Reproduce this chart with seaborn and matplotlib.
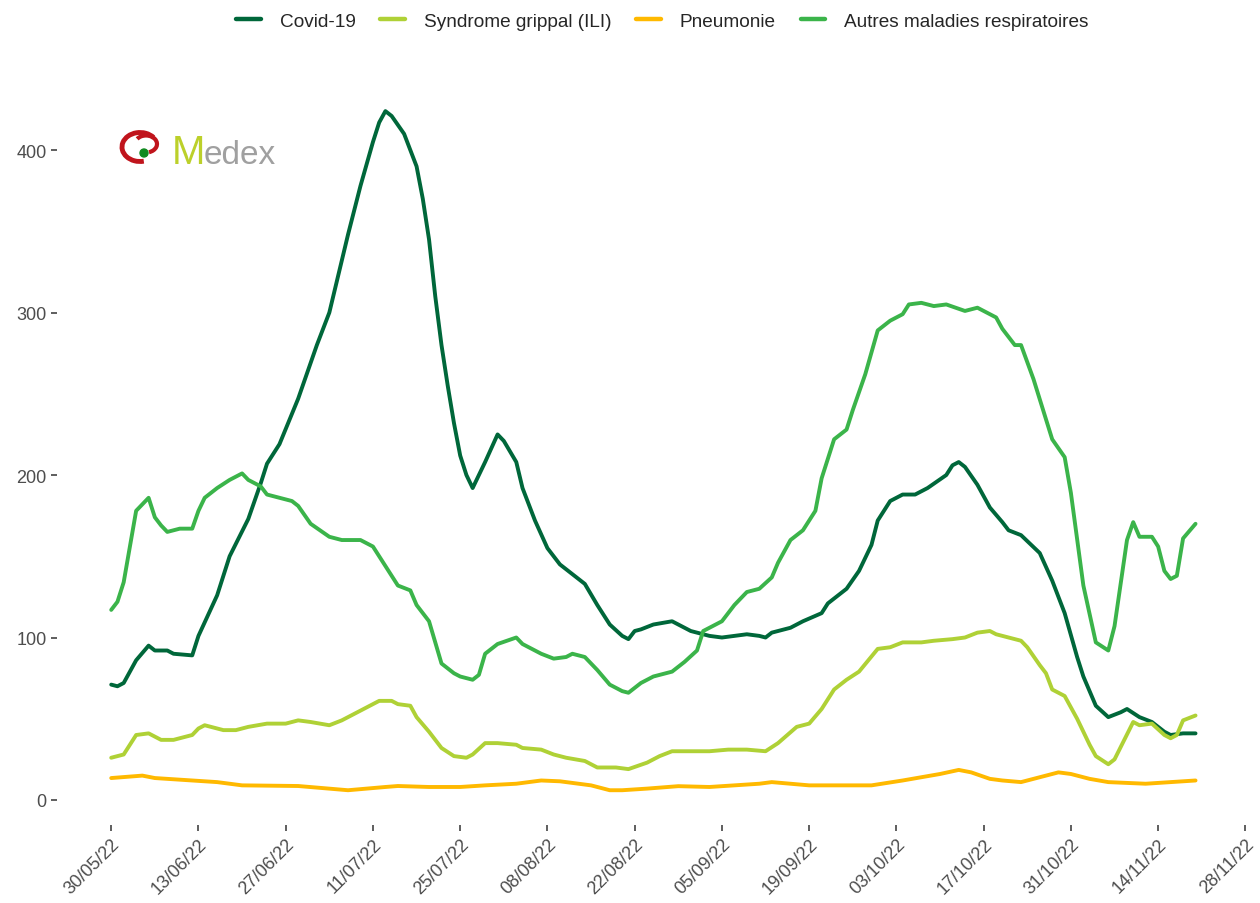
import pandas as pd
import matplotlib
matplotlib.use("Agg")
import matplotlib.pyplot as plt
import matplotlib.dates as mdates
from matplotlib.patches import Arc, Circle
import seaborn as sns

# day offsets from 30/05/22 and daily counts
start = pd.Timestamp("2022-05-30")

covid_days = [0, 1, 2, 4, 6, 7, 9, 10, 13, 14, 17, 19, 22, 24, 25, 27, 30, 33, 35, 38,
              40, 42, 43, 44, 45, 47, 49, 50, 51, 52, 53, 54, 55, 56, 57, 58, 60, 62, 63, 65,
              66, 68, 70, 72, 74, 76, 78, 80, 82, 83, 84, 85, 87, 90, 91, 93, 96, 98, 100, 102,
              104, 105, 106, 109, 111, 114, 115, 118, 120, 122, 123, 125, 127, 129, 131, 134, 135, 136, 137, 139,
              141, 143, 144, 146, 149, 151, 153, 155, 156, 158, 160, 162, 163, 165, 167, 169, 170, 172, 174]
covid_vals = [71, 70, 72, 86, 95, 92, 92, 90, 89, 101, 126, 150, 173, 195, 207, 219, 247, 280, 300, 348,
              378, 405, 417, 424, 421, 410, 390, 370, 345, 310, 280, 255, 232, 212, 200, 192, 208, 225, 221, 208,
              192, 172, 155, 145, 139, 133, 120, 108, 101, 99, 104, 105, 108, 110, 108, 104, 101, 100, 101, 102,
              101, 100, 103, 106, 110, 115, 121, 130, 141, 157, 172, 184, 188, 188, 192, 200, 206, 208, 205, 194,
              180, 171, 166, 163, 152, 135, 115, 88, 76, 58, 51, 54, 56, 51, 48, 42, 40, 41, 41]

ili_days = [0, 2, 4, 6, 7, 8, 10, 13, 14, 15, 17, 18, 20, 22, 25, 28, 30, 32, 35, 37,
            38, 41, 43, 45, 46, 48, 49, 51, 53, 55, 57, 58, 60, 62, 65, 66, 69, 71, 73, 76,
            78, 81, 83, 86, 88, 90, 93, 96, 99, 102, 105, 107, 110, 112, 114, 116, 118, 120, 123, 125,
            127, 130, 132, 135, 137, 139, 141, 142, 144, 146, 147, 149, 150, 151, 153, 155, 157, 158, 160, 161,
            164, 165, 167, 169, 170, 171, 172, 174]
ili_vals = [26, 28, 40, 41, 39, 37, 37, 40, 44, 46, 44, 43, 43, 45, 47, 47, 49, 48, 46, 49,
            51, 57, 61, 61, 59, 58, 51, 42, 32, 27, 26, 28, 35, 35, 34, 32, 31, 28, 26, 24,
            20, 20, 19, 23, 27, 30, 30, 30, 31, 31, 30, 35, 45, 47, 56, 68, 74, 79, 93, 94,
            97, 97, 98, 99, 100, 103, 104, 102, 100, 98, 94, 83, 78, 68, 64, 50, 34, 27, 22, 25,
            48, 46, 47, 40, 38, 40, 49, 52]

pneu_days = [0, 5, 7, 13, 17, 21, 30, 38, 44, 46, 51, 56, 60, 65, 69, 72, 77, 80, 82, 86,
             91, 96, 100, 104, 106, 109, 112, 117, 122, 127, 130, 133, 136, 138, 141, 143, 146, 149, 152, 154,
             157, 160, 166, 170, 174]
pneu_vals = [13.5, 15, 13.5, 12, 11, 9, 8.6, 6, 8, 8.6, 8, 8, 9, 10, 12, 11.5, 9, 6, 6, 7,
             8.5, 8, 9, 10, 11, 10, 9, 9, 9, 12, 14, 16, 18.5, 17, 13, 12, 11, 14, 17, 16,
             13, 11, 10, 11, 12]

autres_days = [0, 1, 2, 4, 6, 7, 8, 9, 11, 13, 14, 15, 17, 19, 21, 22, 24, 25, 27, 29,
               30, 32, 35, 37, 40, 42, 44, 46, 48, 49, 51, 53, 55, 56, 58, 59, 60, 62, 65, 66,
               69, 71, 73, 74, 76, 78, 80, 82, 83, 85, 87, 90, 92, 94, 95, 98, 100, 102, 104, 106,
               107, 109, 111, 113, 114, 116, 118, 119, 121, 123, 125, 127, 128, 130, 132, 134, 137, 139, 142, 143,
               145, 146, 148, 151, 153, 154, 156, 158, 160, 161, 163, 164, 165, 167, 168, 169, 170, 171, 172, 174]
autres_vals = [117, 122, 134, 178, 186, 174, 169, 165, 167, 167, 178, 186, 192, 197, 201, 197, 193, 188, 186, 184,
               181, 170, 162, 160, 160, 156, 144, 132, 129, 120, 110, 84, 78, 76, 74, 77, 90, 96, 100, 96,
               90, 87, 88, 90, 88, 80, 71, 67, 66, 72, 76, 79, 85, 92, 104, 110, 120, 128, 130, 137,
               146, 160, 166, 178, 198, 222, 228, 240, 262, 289, 295, 299, 305, 306, 304, 305, 301, 303, 297, 290,
               280, 280, 259, 222, 211, 189, 132, 97, 92, 107, 160, 171, 162, 162, 156, 141, 136, 138, 161, 170]

series_names = ["Covid-19", "Syndrome grippal (ILI)", "Pneumonie", "Autres maladies respiratoires"]
series_colors = ["#00673A", "#AFD136", "#FFB900", "#3BB44A"]

frames = []
for name, days, vals in zip(series_names,
                            [covid_days, ili_days, pneu_days, autres_days],
                            [covid_vals, ili_vals, pneu_vals, autres_vals]):
    frames.append(pd.DataFrame({
        "date": start + pd.to_timedelta(days, unit="D"),
        "value": vals,
        "serie": name,
    }))
df = pd.concat(frames, ignore_index=True)

sns.set_theme(style="ticks")
plt.rcParams["font.family"] = ["Liberation Sans", "DejaVu Sans"]

fig = plt.figure(figsize=(12.6, 9.04), dpi=100)
W, H = 1260, 904
ax = fig.add_axes([57 / W, 1 - 826 / H, (1251 - 57) / W, (826 - 78) / H])

sns.lineplot(data=df, x="date", y="value", hue="serie", hue_order=series_names,
             palette=dict(zip(series_names, series_colors)), linewidth=2.8, ax=ax)

# axes limits and ticks
x0 = mdates.date2num(start)
ax.set_xlim(x0 - 8.7, x0 + 182.9)
ax.set_ylim(-15.4, 445)
tick_dates = pd.date_range(start, periods=14, freq="14D")
ax.set_xticks(tick_dates)
ax.set_xticklabels([d.strftime("%d/%m/%y") for d in tick_dates],
                   rotation=45, ha="right", va="top", rotation_mode="anchor")
ax.set_yticks([0, 100, 200, 300, 400])
ax.tick_params(axis="both", length=4.3, width=1.1, color="#333333",
               labelcolor="#4D4D4D", labelsize=13, pad=3)
ax.set_xlabel("")
ax.set_ylabel("")
sns.despine(ax=ax, left=True, bottom=True)

sns.move_legend(ax, "center", bbox_to_anchor=(0.507, 1.075), ncol=4, title=None,
                frameon=False, fontsize=13.7, handlelength=1.3, handletextpad=1.0,
                columnspacing=1.3)
for line in ax.get_legend().get_lines():
    line.set_linewidth(3.2)

# Medex logo
logo = fig.add_axes([115 / W, 1 - 175 / H, 170 / W, 50 / H])
logo.set_xlim(0, 170)
logo.set_ylim(0, 50)
logo.axis("off")
logo.add_patch(Arc((25, 27), 36, 29, theta1=35, theta2=285, lw=3.5, color="#C0141C"))
logo.add_patch(Arc((31, 30), 22, 17, theta1=-70, theta2=150, lw=3.0, color="#C0141C"))
logo.add_patch(Circle((29, 21), 4, color="#118A20"))
logo.text(57, 11, "M", fontsize=29, color="#BCD02A", va="baseline", ha="left")
logo.text(89, 11, "edex", fontsize=24, color="#A0A0A0", va="baseline", ha="left")

fig.savefig("out.png", dpi=100)
